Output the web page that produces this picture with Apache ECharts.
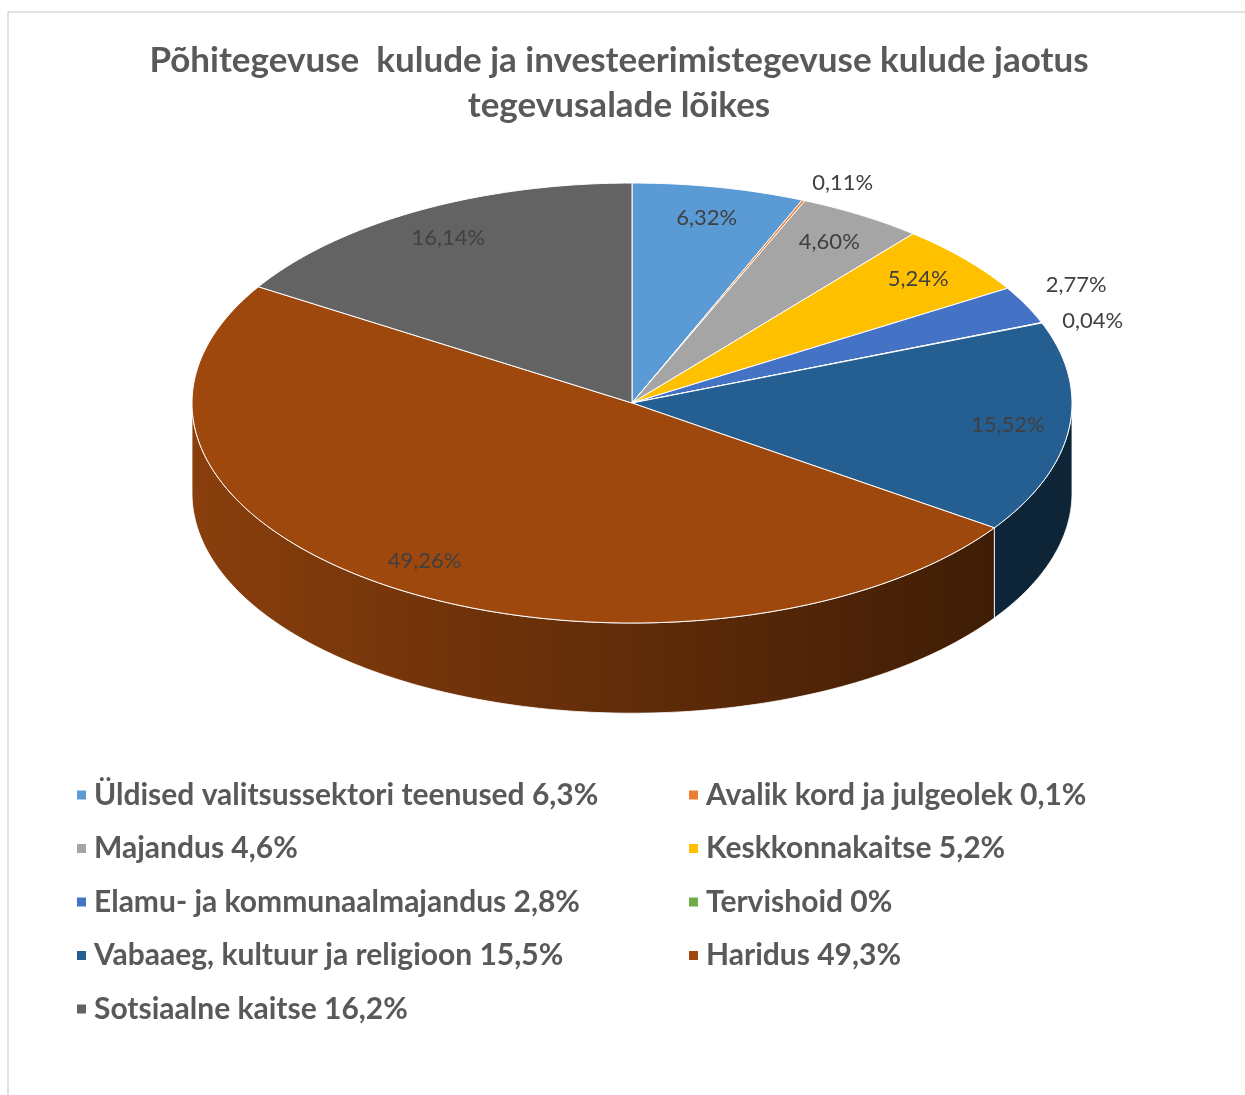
<!DOCTYPE html>
<html>
<head>
<meta charset="utf-8">
<script src="https://cdn.jsdelivr.net/npm/echarts@6/dist/echarts.min.js"></script>
<style>
	html, body { margin: 0; padding: 0; background: #fff; }
	#main { width: 1245px; height: 1095px; }
</style>
</head>
<body>
<div id="main"></div>
<script>
	// andmed
	const categories = ['Üldised valitsussektori teenused', 'Avalik kord ja julgeolek', 'Majandus', 'Keskkonnakaitse',
		'Elamu- ja kommunaalmajandus', 'Tervishoid', 'Vabaaeg, kultuur ja religioon', 'Haridus', 'Sotsiaalne kaitse'
	];
	const shares = [6.32, 0.11, 4.60, 5.24, 2.77, 0.04, 15.52, 49.26, 16.14];
	const legendShares = ['6,3', '0,1', '4,6', '5,2', '2,8', '0', '15,5', '49,3', '16,2'];
	const colors = ['#5B9BD5', '#ED7D31', '#A5A5A5', '#FFC000', '#4472C4', '#70AD47', '#255E91', '#9E480E', '#636363'];

	const DEPTH = 0.41; // külje kõrgus ühikutes (y-telg -1..1)
	const FONT = 'Lato, "Open Sans", sans-serif';
	const UNIT_PX = 220; // 1 ühik y-teljel pikslites

	function shade(hex, k) {
		const n = parseInt(hex.slice(1), 16);
		const r = Math.round(((n >> 16) & 255) * k);
		const g = Math.round(((n >> 8) & 255) * k);
		const b = Math.round((n & 255) * k);
		return 'rgb(' + r + ',' + g + ',' + b + ')';
	}

	function sideShade(x) {
		return Math.max(0.38, 0.87 - 0.26 * (x + 1));
	}

	function arc(api, a, b, r, drop) {
		// a -> b radiaanides
		const steps = Math.max(2, Math.ceil(Math.abs(b - a) / (Math.PI / 180)));
		const pts = [];
		for (let i = 0; i <= steps; i++) {
			const t = a + (b - a) * i / steps;
			pts.push(api.coord([r * Math.cos(t), r * Math.sin(t) - drop]));
		}
		return pts;
	}

	// siltide asukohad (ühikutes), väikesed lõigud väljaspool
	let cum = 0;
	const labels = shares.map(function (v) {
		const mid = (90 - (cum + v / 2) * 3.6) * Math.PI / 180;
		cum += v;
		const outside = v < 3;
		const r = outside ? 1.05 : 0.86;
		return { x: r * Math.cos(mid), y: r * Math.sin(mid) + (outside ? 7 / UNIT_PX : 0), outside: outside };
	});
	// lükka kattuvad välimised sildid lahku
	let prev = null;
	labels.forEach(function (l) {
		if (!l.outside) return;
		const gap = 36 / UNIT_PX;
		if (prev && Math.abs(prev.y - l.y) < gap) {
			const d = (gap - Math.abs(prev.y - l.y)) / 2;
			prev.y += d;
			l.y -= d;
		}
		prev = l;
	});

	function renderSlice(params, api) {
		const start = api.value(0);
		const end = api.value(1);
		const val = api.value(2);
		const idx = params.seriesIndex;
		const color = colors[idx];
		// kellaosuti suunas alates ülevalt
		const a = (90 - start * 3.6) * Math.PI / 180;
		const b = (90 - end * 3.6) * Math.PI / 180;
		const children = [];

		// pealmine pind
		const top = [api.coord([0, 0])].concat(arc(api, a, b, 1, 0));
		children.push({
			type: 'polygon',
			z2: 5,
			shape: { points: top },
			style: { fill: color, stroke: '#fff', lineWidth: 1 }
		});

		// esikülg (nähtav vaid -180..0)
		const s = Math.min(a, 0);
		const e = Math.max(b, -Math.PI);
		if (s > e) {
			const upper = arc(api, s, e, 1, 0);
			const lower = arc(api, e, s, 1, DEPTH);
			let xmin = Math.cos(s), xmax = Math.cos(s);
			for (let i = 0; i <= 60; i++) {
				const x = Math.cos(s + (e - s) * i / 60);
				xmin = Math.min(xmin, x);
				xmax = Math.max(xmax, x);
			}
			const stops = [];
			for (let i = 0; i <= 10; i++) {
				const x = xmin + (xmax - xmin) * i / 10;
				stops.push({ offset: i / 10, color: shade(color, sideShade(x)) });
			}
			children.push({
				type: 'polygon',
				z2: 1,
				shape: { points: upper.concat(lower) },
				style: {
					fill: new echarts.graphic.LinearGradient(0, 0, 1, 0, stops),
					stroke: '#fff',
					lineWidth: 0.8
				}
			});
		}

		// protsendi silt
		const l = labels[idx];
		const p = api.coord([l.x, l.y]);
		children.push({
			type: 'text',
			z2: 10,
			x: p[0],
			y: p[1],
			style: {
				text: val.toFixed(2).replace('.', ',') + '%',
				fill: '#404040',
				font: '22px ' + FONT,
				align: l.outside ? 'left' : 'center',
				verticalAlign: 'middle'
			}
		});

		return { type: 'group', children: children };
	}

	cum = 0;
	const series = categories.map(function (name, i) {
		const s = cum;
		cum += shares[i];
		return {
			name: name,
			type: 'custom',
			coordinateSystem: 'cartesian2d',
			renderItem: renderSlice,
			itemStyle: { color: colors[i] },
			data: [[s, cum, shares[i]]]
		};
	});

	function legendText(name) {
		return name + ' ' + legendShares[categories.indexOf(name)] + '%';
	}

	const legendBase = {
		orient: 'vertical',
		top: 775,
		icon: 'rect',
		itemWidth: 9,
		itemHeight: 9,
		itemGap: 23.5,
		formatter: legendText,
		textStyle: {
			fontFamily: FONT,
			fontWeight: 'bold',
			fontSize: 30,
			lineHeight: 30,
			color: '#595959',
			padding: [0, 0, 0, 3]
		}
	};

	let myChart = echarts.init(document.getElementById('main'));
	myChart.setOption({
		animation: false,
		backgroundColor: '#fff',
		title: {
			text: 'Põhitegevuse  kulude ja investeerimistegevuse kulude jaotus\ntegevusalade lõikes',
			left: 614,
			textAlign: 'center',
			top: 33,
			textStyle: {
				fontFamily: FONT,
				fontWeight: 'bold',
				fontSize: 35,
				lineHeight: 45,
				color: '#595959'
			}
		},
		graphic: [{
			type: 'rect',
			shape: { x: 8, y: 12, width: 1400, height: 1200 },
			style: { fill: null, stroke: '#D9D9D9', lineWidth: 1.5 },
			z: -1
		}],
		legend: [
			Object.assign({}, legendBase, { left: 72, data: categories.filter(function (c, i) { return i % 2 === 0; }) }),
			Object.assign({}, legendBase, { left: 684, data: categories.filter(function (c, i) { return i % 2 === 1; }) })
		],
		grid: { left: 192, top: 183, width: 880, height: 440 },
		xAxis: { type: 'value', min: -1, max: 1, show: false },
		yAxis: { type: 'value', min: -1, max: 1, show: false },
		series: series
	});
</script>
</body>
</html>
